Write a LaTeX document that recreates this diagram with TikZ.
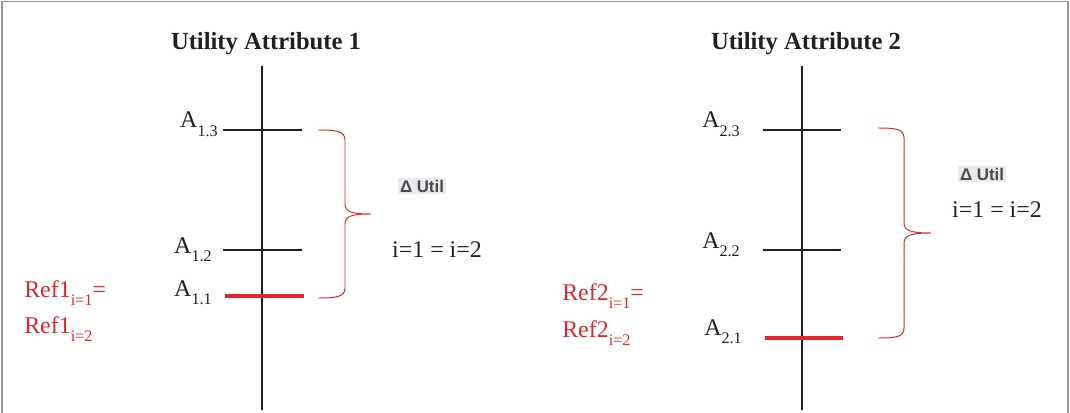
\documentclass[tikz,border=0pt]{standalone}
\usepackage{fontspec}
\setmainfont{Liberation Serif}
\setsansfont{Liberation Sans}
\usetikzlibrary{positioning, calc}

\definecolor{refred}{HTML}{E4262C}
\definecolor{inkblack}{HTML}{231F20}
\definecolor{utilgray}{HTML}{E8EAED}
\newcommand{\lowidx}[1]{\raisebox{-6pt}{\fontsize{11.5}{11.5}\selectfont #1}}

\tikzset{
  frame/.style={draw=gray!80, line width=1.2pt},
  axis/.style={draw=inkblack, line width=1.5pt},
  tick/.style={draw=inkblack, line width=1.6pt},
  reftick/.style={draw=refred, line width=2.5pt},
  bracered/.style={draw=refred, line width=0.7pt},
  title/.style={font=\fontsize{17.5}{20}\selectfont\bfseries, text=inkblack, anchor=base, inner sep=0pt},
  level/.style={font=\fontsize{17}{18}\selectfont, text=inkblack, anchor=base east, inner sep=0pt},
  equal/.style={font=\fontsize{17}{18}\selectfont, text=inkblack, anchor=base, inner sep=0pt},
  delta/.style={font=\sffamily\bfseries\fontsize{12}{13}\selectfont, text=black!70, fill=utilgray, inner sep=1.5pt},
  reflabel/.style={font=\fontsize{17}{20}\selectfont, text=refred, anchor=base west, inner sep=0pt}
}

\begin{document}
\begin{tikzpicture}[x=0.025cm, y=-0.025cm]
  \useasboundingbox (0,0) rectangle (1070,413);
  \draw[frame] (2,413) -- (2,1.5) -- (1068,1.5) -- (1068,413);

  % Utility attribute 1
  \node[title] (title1) at (266,50) {Utility Attribute 1};
  \coordinate (ax1top) at (262,66);
  \coordinate (ax1bot) at (262,410);
  \draw[axis] (ax1top) -- (ax1bot);
  \coordinate (t13a) at (223,130); \coordinate (t13b) at (302,130);
  \coordinate (t12a) at (223,250); \coordinate (t12b) at (302,250);
  \coordinate (t11a) at (225,296); \coordinate (t11b) at (304,296);
  \draw[tick] (t13a) -- (t13b);
  \draw[tick] (t12a) -- (t12b);
  \draw[reftick] (t11a) -- (t11b);
  \node[level] (a13) at (218,128) {A\lowidx{1.3}};
  \node[level] (a12) at (212,253) {A\lowidx{1.2}};
  \node[level] (a11) at (212,296) {A\lowidx{1.1}};
  \coordinate (br1top) at (318,130);
  \coordinate (br1tip) at (371,214);
  \coordinate (br1bot) at (318,298);
  \draw[bracered] (br1top) .. controls (336,130) and (345,131) .. (345,140) -- (345,204)
    .. controls (345,212) and (352,214) .. (br1tip)
    .. controls (352,214) and (345,216) .. (345,224) -- (345,288)
    .. controls (345,297) and (336,298) .. (br1bot);
  \node[delta] (util1) at (422,186) {Δ Util};
  \node[equal] (eq1) at (437,257) {i=1 = i=2};
  \node[reflabel] (ref1a) at (24,297) {Ref1\lowidx{i=1}=};
  \node[reflabel] (ref1b) at (24,333) {Ref1\lowidx{i=2}};

  % Utility attribute 2
  \node[title] (title2) at (806,50) {Utility Attribute 2};
  \coordinate (ax2top) at (802,66);
  \coordinate (ax2bot) at (802,410);
  \draw[axis] (ax2top) -- (ax2bot);
  \coordinate (t23a) at (763,130); \coordinate (t23b) at (841,130);
  \coordinate (t22a) at (763,250); \coordinate (t22b) at (841,250);
  \coordinate (t21a) at (765,338); \coordinate (t21b) at (843,338);
  \draw[tick] (t23a) -- (t23b);
  \draw[tick] (t22a) -- (t22b);
  \draw[reftick] (t21a) -- (t21b);
  \node[level] (a23) at (740,128) {A\lowidx{2.3}};
  \node[level] (a22) at (740,248) {A\lowidx{2.2}};
  \node[level] (a21) at (742,335) {A\lowidx{2.1}};
  \coordinate (br2top) at (878,128);
  \coordinate (br2tip) at (931,233);
  \coordinate (br2bot) at (878,338);
  \draw[bracered] (br2top) .. controls (896,128) and (904,129) .. (904,138) -- (904,223)
    .. controls (904,231) and (912,233) .. (br2tip)
    .. controls (912,233) and (904,235) .. (904,243) -- (904,328)
    .. controls (904,337) and (896,338) .. (br2bot);
  \node[delta] (util2) at (982,174) {Δ Util};
  \node[equal] (eq2) at (997,217) {i=1 = i=2};
  \node[reflabel] (ref2a) at (562,300) {Ref2\lowidx{i=1}=};
  \node[reflabel] (ref2b) at (562,337) {Ref2\lowidx{i=2}};
\end{tikzpicture}
\end{document}
